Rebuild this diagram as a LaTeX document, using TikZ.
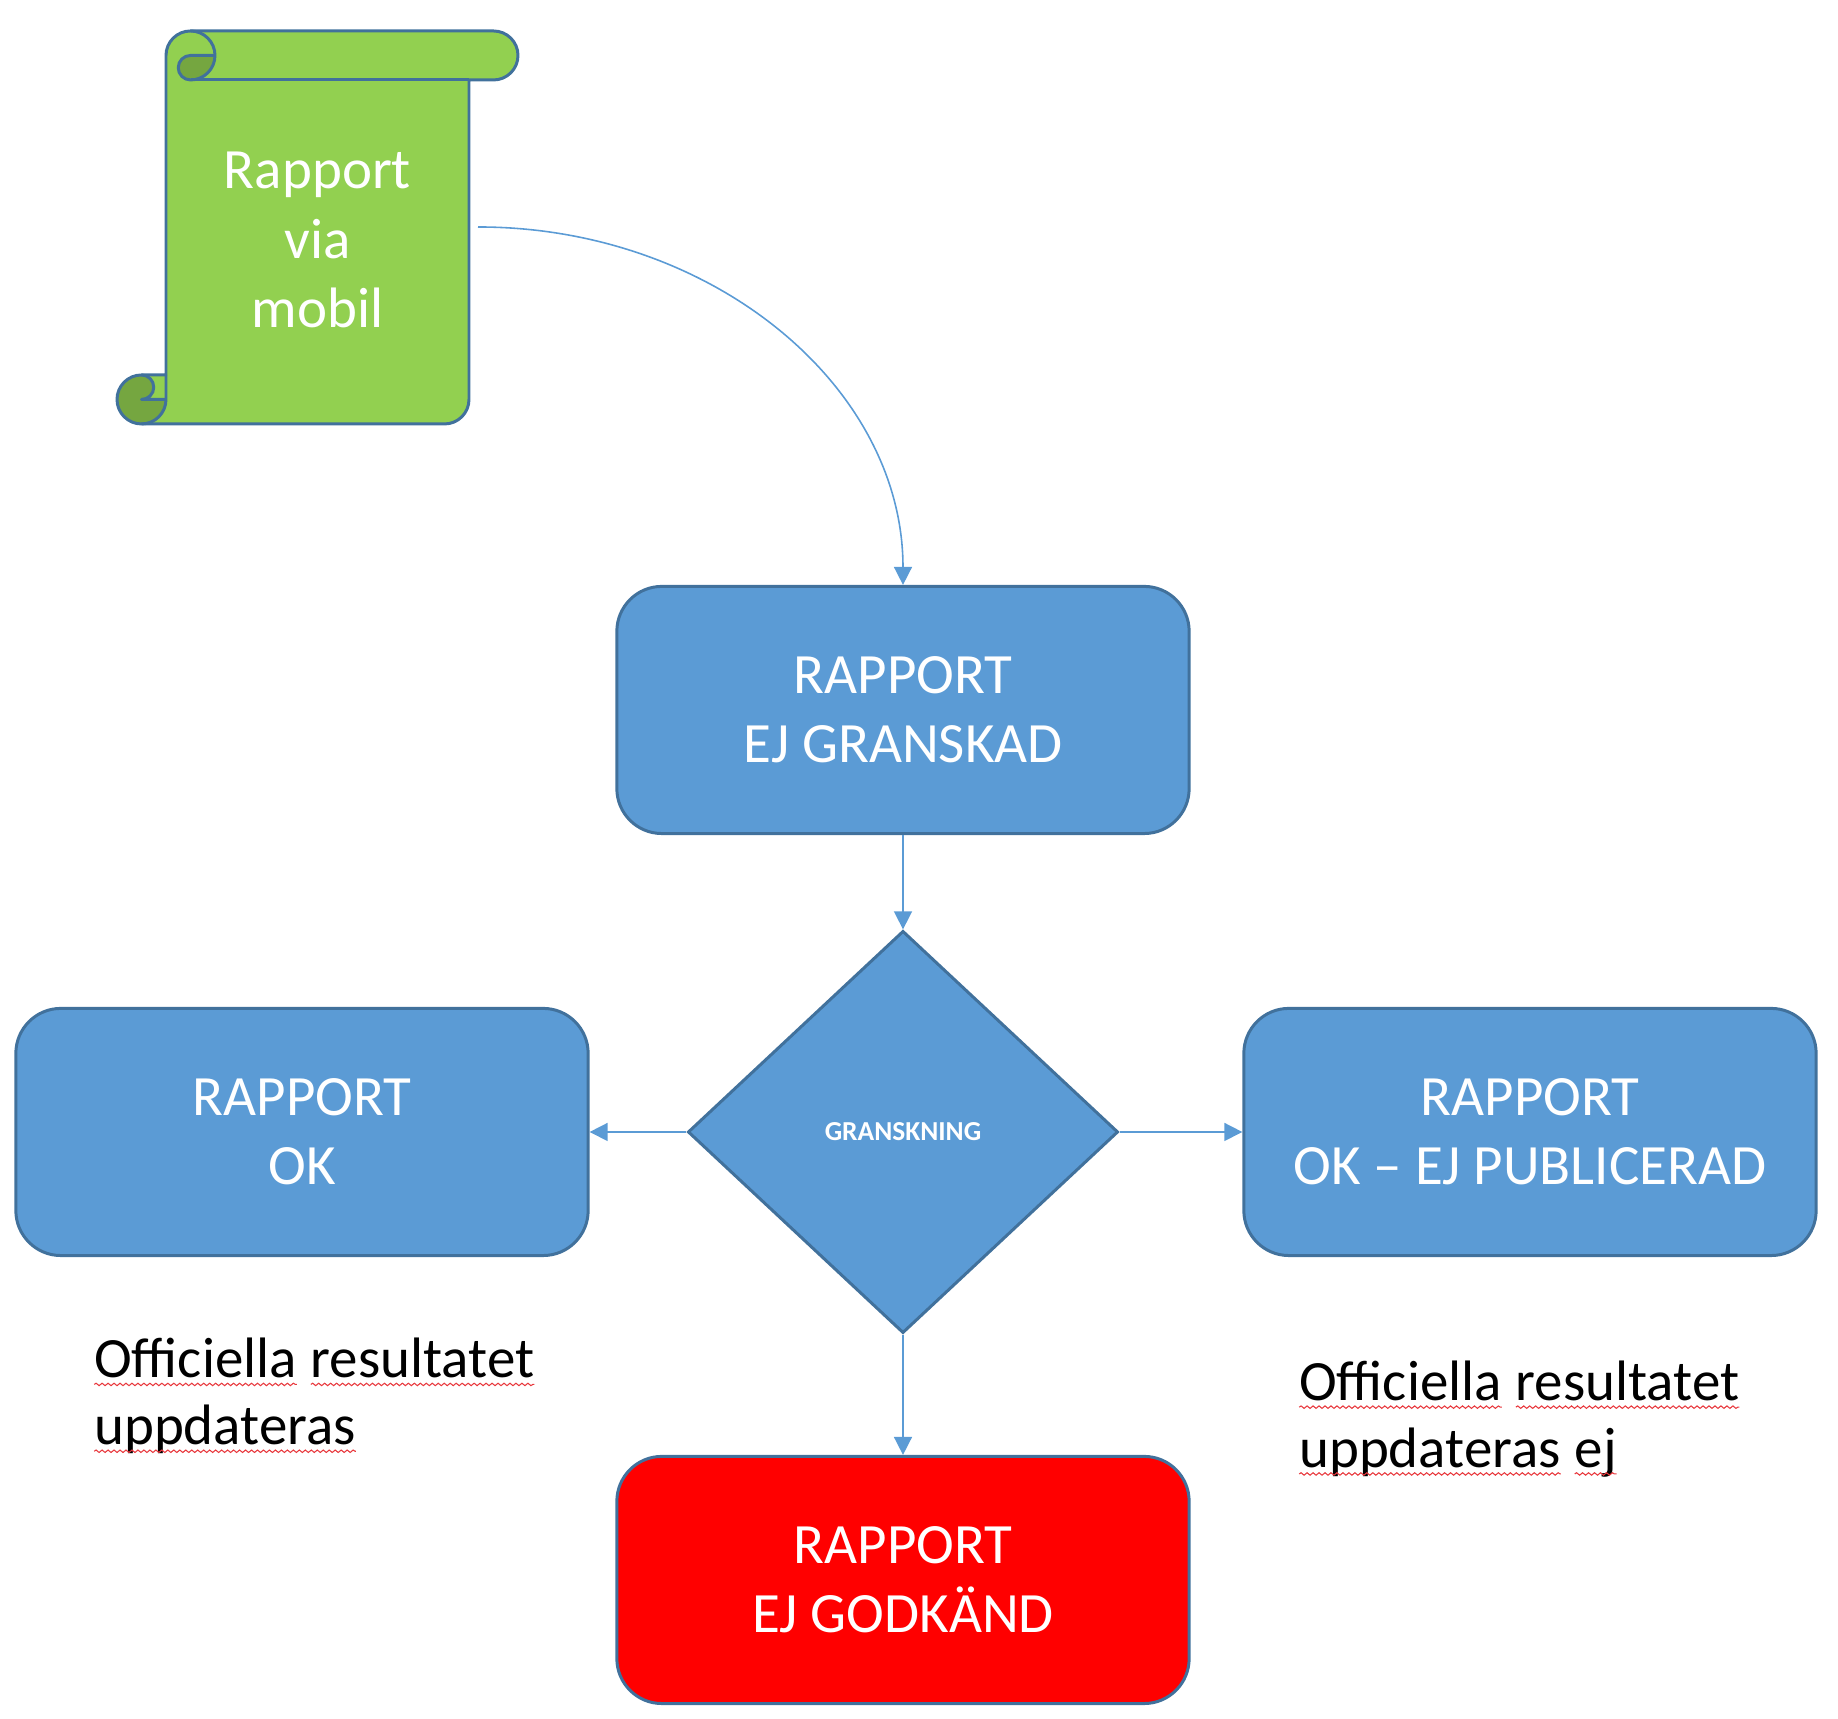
\documentclass[tikz,border=0pt]{standalone}
\usepackage{fontspec}
\setmainfont{Carlito}
\usetikzlibrary{shapes.geometric,arrows.meta,decorations.pathmorphing}

\definecolor{boxblue}{HTML}{5B9BD5}
\definecolor{edgeblue}{HTML}{41719C}
\definecolor{scrollgreen}{HTML}{92D050}
\definecolor{curlgreen}{HTML}{75A640}
\definecolor{alertred}{HTML}{FF0000}
\definecolor{spellred}{HTML}{E8383D}

% rod vagig understrykning (stavningskontroll)
\newcommand{\spellwave}[1]{\tikz[baseline=(w.base)]{%
    \node[anchor=base west, inner sep=0pt, outer sep=0pt] (w) at (0,0) {#1};
    \draw[spellred, line width=0.3pt, decorate,
        decoration={snake, amplitude=0.35pt, segment length=1.7pt}]
        ([yshift=-1.9pt]w.base west) -- ([yshift=-1.9pt]w.base east);}}

\begin{document}
\begin{tikzpicture}[
    x=0.01cm,
    y=0.01cm,
    state/.style={rectangle, rounded corners=0.45cm, draw=edgeblue, line width=0.85pt,
        fill=boxblue, text=white, align=center, minimum width=5.72cm, minimum height=2.47cm,
        font=\fontsize{16.2}{19.5}\selectfont},
    decision/.style={diamond, draw=edgeblue, line width=0.85pt, fill=boxblue, text=white,
        minimum width=4.3cm, minimum height=4.02cm, inner sep=0pt,
        font=\fontsize{7.8}{9}\selectfont\bfseries},
    note/.style={align=left, inner sep=0pt, anchor=west,
        font=\fontsize{16.2}{19}\selectfont},
    link/.style={draw=boxblue, line width=0.45pt, -{Triangle[length=0.18cm,width=0.18cm]}},
    rollline/.style={draw=edgeblue, line width=0.85pt, line join=round}
]

% =========================================================
% PARAMETRAR
% =========================================================

\def\xmid{903}
\def\yrow{587}

% bounding box som bilden
\useasboundingbox (0,0) rectangle (1838,1719);

% =========================================================
% RULLE (rapport via mobil)
% =========================================================

\begin{scope}[shift={(117,1295)}]
% fyllning
\fill[scrollgreen] (24.5,0) arc[start angle=-90,end angle=0,radius=24.5]
    -- (24.5,24.5) arc[start angle=-90,end angle=-270,radius=12.25]
    -- (49,49) -- (49,368.5) arc[start angle=180,end angle=90,radius=24.5]
    -- (376.5,393) arc[start angle=90,end angle=-90,radius=24.5]
    -- (352,344) -- (352,24.5) arc[start angle=0,end angle=-90,radius=24.5] -- cycle;

% morkare rullar
\fill[curlgreen] (98,368.5) arc[start angle=0,end angle=-90,radius=24.5]
    arc[start angle=-90,end angle=-270,radius=12.25] -- cycle;
\fill[curlgreen] (49,24.5) arc[start angle=0,end angle=-270,radius=24.5]
    arc[start angle=90,end angle=-90,radius=12.25] -- cycle;

% kontur
\draw[rollline] (49,49) -- (49,368.5) arc[start angle=180,end angle=90,radius=24.5]
    -- (376.5,393) arc[start angle=90,end angle=-90,radius=24.5]
    -- (352,344) -- (352,24.5) arc[start angle=0,end angle=-90,radius=24.5]
    -- (24.5,0) arc[start angle=-90,end angle=-270,radius=24.5] -- cycle;
\draw[rollline] (73.5,393) arc[start angle=90,end angle=-90,radius=24.5]
    arc[start angle=-90,end angle=-270,radius=12.25] -- (98,368.5);
\draw[rollline] (352,344) -- (73.5,344);
\draw[rollline] (24.5,49) arc[start angle=90,end angle=-90,radius=12.25] -- (49,24.5);
\draw[rollline] (24.5,0) arc[start angle=-90,end angle=0,radius=24.5] -- (49,49);

% text
\node[text=white, align=center, font=\fontsize{16.2}{19.8}\selectfont] (mobil)
    at (200.5,184) {Rapport\\via\\mobil};
\end{scope}

\coordinate (src) at (478,1492);

% =========================================================
% RUTOR
% =========================================================

\node[state] (granskad) at (\xmid,1009) {RAPPORT\\EJ GRANSKAD};

\node[decision] (granskning) at (\xmid,\yrow) {GRANSKNING};

\node[state] (ok) at (302,\yrow) {RAPPORT\\OK};

\node[state] (publ) at (1530,\yrow) {RAPPORT\\OK – EJ PUBLICERAD};

\node[state, fill=alertred] (godkand) at (\xmid,139) {RAPPORT\\EJ GODKÄND};

% =========================================================
% PILAR
% =========================================================

\draw[link] (src) .. controls +(235,0) and +(0,198) .. (granskad.north);

\draw[link] (granskad.south) -- (granskning.north);
\draw[link] (granskning.west) -- (ok.east);
\draw[link] (granskning.east) -- (publ.west);
\draw[link] (granskning.south) -- (godkand.north);

% =========================================================
% KOMMENTARER
% =========================================================

\node[note] (uppd) at (93,323)
    {\spellwave{Officiella} \spellwave{resultatet}\\\spellwave{uppdateras}};

\node[note] (uppdej) at (1298,300)
    {\spellwave{Officiella} \spellwave{resultatet}\\\spellwave{uppdateras} \spellwave{ej}};

\end{tikzpicture}
\end{document}
